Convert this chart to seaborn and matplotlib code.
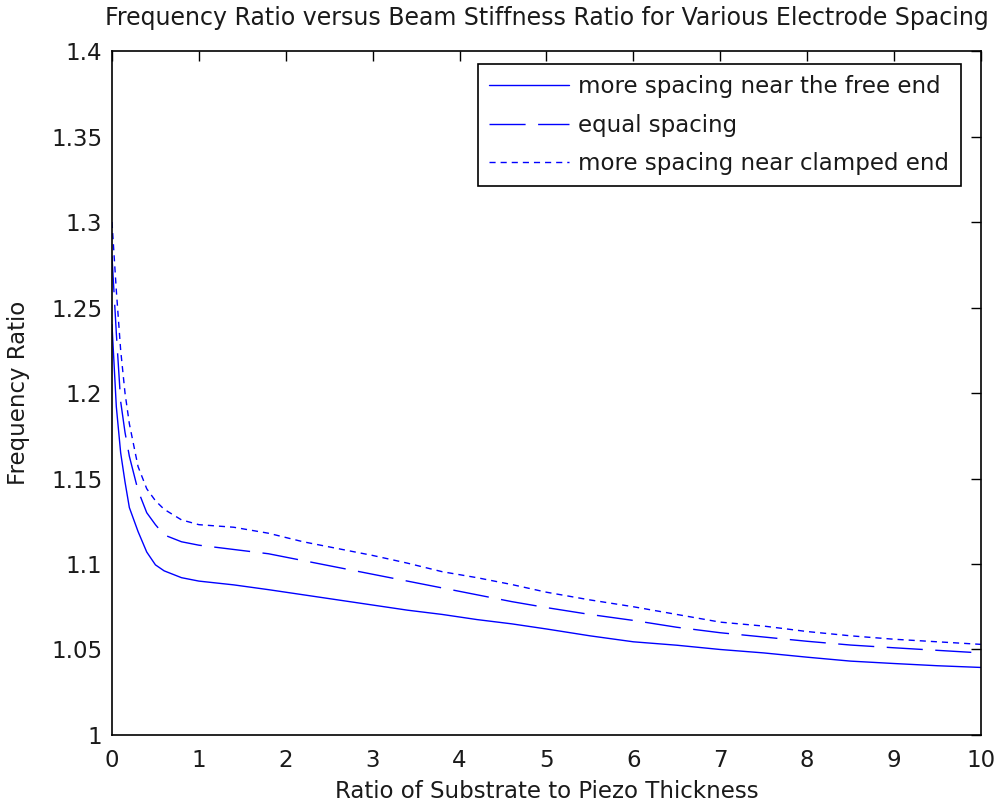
import matplotlib
matplotlib.use("Agg")
import matplotlib.pyplot as plt
import numpy as np
import pandas as pd
import seaborn as sns

# Substrate-to-piezo thickness ratio
thickness_ratio = [0, 0.05, 0.1, 0.15, 0.2, 0.3, 0.4, 0.5, 0.6, 0.8, 1.0, 1.4, 1.8,
                   2.2, 2.6, 3.0, 3.4, 3.8, 4.2, 4.6, 5.0, 5.5, 6.0, 6.5, 7.0, 7.5,
                   8.0, 8.5, 9.0, 9.5, 10.0]

# Frequency ratio for each electrode arrangement
free_end_spacing = [1.24, 1.192, 1.165, 1.148, 1.133, 1.119, 1.107, 1.0995, 1.0960,
                    1.0920, 1.0900, 1.0878, 1.0850, 1.0820, 1.0790, 1.0760, 1.0730,
                    1.0705, 1.0675, 1.0650, 1.0620, 1.0580, 1.0545, 1.0525, 1.0500,
                    1.0480, 1.0455, 1.0432, 1.0418, 1.0405, 1.0395]
equal_spacing = [1.28, 1.235, 1.195, 1.177, 1.163, 1.143, 1.130, 1.123, 1.117, 1.113,
                 1.111, 1.1085, 1.1060, 1.1020, 1.0980, 1.0940, 1.0900, 1.0860,
                 1.0820, 1.0780, 1.0745, 1.0705, 1.0670, 1.0630, 1.0598, 1.0573,
                 1.0548, 1.0526, 1.0510, 1.0495, 1.0480]
clamped_end_spacing = [1.30, 1.26, 1.225, 1.200, 1.182, 1.157, 1.144, 1.137, 1.132,
                       1.1258, 1.1230, 1.1215, 1.1180, 1.1130, 1.1090, 1.1050, 1.1005,
                       1.0955, 1.0920, 1.0880, 1.0835, 1.0790, 1.0750, 1.0705, 1.0660,
                       1.0637, 1.0605, 1.0580, 1.0560, 1.0545, 1.0530]

series_labels = ["more spacing near the free end",
                 "equal spacing",
                 "more spacing near clamped end"]
x_ticks = list(range(0, 11))
y_ticks = [1, 1.05, 1.1, 1.15, 1.2, 1.25, 1.3, 1.35, 1.4]
y_tick_labels = ["1", "1.05", "1.1", "1.15", "1.2", "1.25", "1.3", "1.35", "1.4"]

sns.set_style("white")
plt.rcParams["font.family"] = ["DejaVu Sans"]
FS = 16.5
TXT = "#1a1a1a"

fig = plt.figure(figsize=(9.98, 8.06), dpi=100)
ax = fig.add_axes([0.1122, 0.0881, 0.8707, 0.8486])

styles = ["-", (0, (26, 9)), (0, (4.4, 3.6))]
for values, label, ls in zip([free_end_spacing, equal_spacing, clamped_end_spacing],
                             series_labels, styles):
    df = pd.DataFrame({"ratio": thickness_ratio, "freq": values})
    sns.lineplot(data=df, x="ratio", y="freq", ax=ax, color="#0000ff",
                 linewidth=1.0, linestyle=ls, label=label)

ax.set_xlim(0, 10)
ax.set_ylim(1, 1.4)
ax.set_xticks(x_ticks)
ax.set_xticklabels([str(t) for t in x_ticks])
ax.set_yticks(y_ticks)
ax.set_yticklabels(y_tick_labels)

for side in ["left", "right", "top", "bottom"]:
    ax.spines[side].set_visible(True)
    ax.spines[side].set_color("black")
    ax.spines[side].set_linewidth(1.2)

ax.tick_params(axis="both", which="both", direction="in", length=7, width=1.0,
               top=True, right=True, labelsize=FS, colors="black",
               labelcolor=TXT)
ax.tick_params(axis="x", pad=10)
ax.tick_params(axis="y", pad=7)

ax.set_title("Frequency Ratio versus Beam Stiffness Ratio for Various Electrode Spacing",
             fontsize=17.0, pad=19, color=TXT)
ax.set_xlabel("Ratio of Substrate to Piezo Thickness", fontsize=FS, labelpad=6, color=TXT)
ax.set_ylabel("Frequency Ratio", fontsize=FS, labelpad=15, color=TXT)

leg = ax.legend(loc="upper right", bbox_to_anchor=(0.977, 0.981), fontsize=FS,
                frameon=True, fancybox=False, framealpha=1, edgecolor="black",
                handlelength=3.5, handletextpad=0.4, labelspacing=0.66,
                borderpad=0.5, borderaxespad=0)
leg.get_frame().set_linewidth(1.2)
for t in leg.get_texts():
    t.set_color(TXT)

fig.savefig("out.png", dpi=100, facecolor="white")
